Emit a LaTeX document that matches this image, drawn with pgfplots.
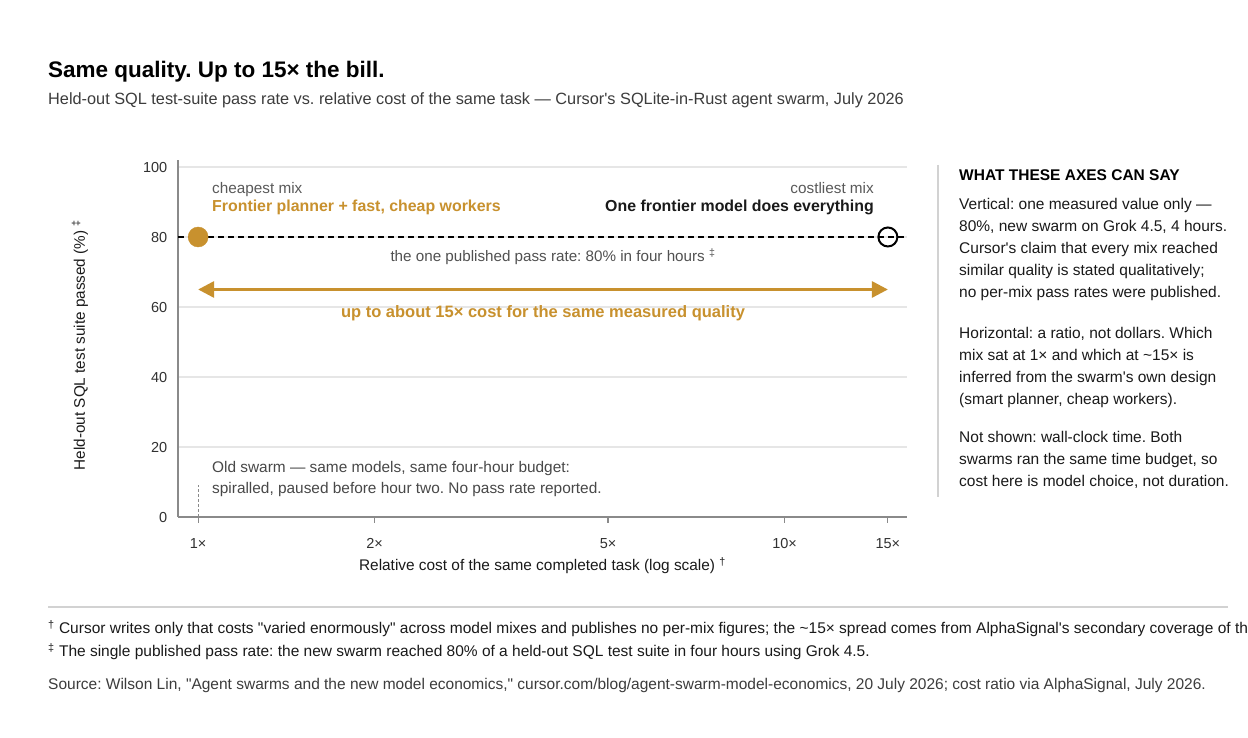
\documentclass[border=0pt]{standalone}
\usepackage{fontspec}
\setmainfont{Liberation Sans}[Ligatures=TeXOff]
\usepackage{pgfplots}
\pgfplotsset{compat=1.18}
\usetikzlibrary{arrows.meta}
\definecolor{gold}{HTML}{C8912E}
\definecolor{txtgray}{HTML}{5A5A5A}
\definecolor{axgray}{HTML}{8A8A8A}
\definecolor{gridgray}{HTML}{E6E6E6}
\definecolor{ink}{HTML}{1A1A1A}
\newcommand{\fs}[1]{\fontsize{#1}{#1}\selectfont}
\frenchspacing
\begin{document}
\frenchspacing
\begin{tikzpicture}
\useasboundingbox (0pt,0pt) rectangle (1248pt,738pt);
\fill[white] (0pt,0pt) rectangle (1248pt,738pt);
\begin{axis}[
  at={(178pt,221pt)}, anchor=south west,
  scale only axis, width=729pt, height=357pt,
  xmode=log, xmin=0.924, xmax=16.17, ymin=0, ymax=102,
  axis x line*=bottom, axis y line*=left,
  axis line style={axgray, line width=1.5pt},
  xtick={1,2,5,10,15}, xticklabels={1×,2×,5×,10×,15×},
  minor xtick={},
  ytick={0,20,40,60,80,100},
  /pgf/number format/assume math mode=true,
  ymajorgrids, grid style={gridgray, line width=1.2pt},
  xtick align=outside,
  x tick style={axgray, line width=1.2pt},
  major tick length=6pt,
  y tick style={draw=none},
  tick label style={font=\fs{14.5}, text=ink!90, inner sep=0pt},
  xticklabel style={anchor=base, yshift=-26pt},
  yticklabel style={anchor=base east, xshift=-10.5pt, yshift=-5.5pt},
  clip=false,
]
\addplot[black, line width=1.5pt, dash pattern=on 6pt off 4pt] coordinates {(0.924,80) (16.17,80)};
\addplot[gold, line width=3pt, {Triangle[length=16pt,width=16pt]}-{Triangle[length=16pt,width=16pt]}] coordinates {(1,65) (15,65)};
\addplot[axgray, line width=1pt, dash pattern=on 3pt off 2pt] coordinates {(1,0) (1,9)};
\addplot[only marks, mark=*, mark size=10pt, mark options={draw=gold, fill=gold}] coordinates {(1,80)};
\addplot[only marks, mark=o, mark size=9.5pt, mark options={draw=black, line width=2pt}] coordinates {(15,80)};
\end{axis}
% annotations
\begin{scope}[x=1pt, y=1pt, every node/.style={inner sep=0pt}]
\node[anchor=base west, font=\fs{15.3}, text=txtgray] at (212,738-194) {cheapest mix};
\node[anchor=base west, font=\bfseries\fs{15.9}, text=gold] at (212,738-212) {Frontier planner + fast, cheap workers};
\node[anchor=base east, font=\fs{15.3}, text=txtgray] at (874,738-194) {costliest mix};
\node[anchor=base east, font=\bfseries\fs{15.9}, text=ink] at (874,738-212) {One frontier model does everything};
\node[anchor=base, font=\fs{15.2}, text=txtgray!90!black] at (553,738-262) {the one published pass rate: 80\% in four hours \textsuperscript{‡}};
\node[anchor=base, font=\bfseries\fs{16.5}, text=gold] at (543,738-318) {up to about 15× cost for the same measured quality};
\node[anchor=base west, font=\fs{15.4}, text=ink!80] at (212,738-473) {Old swarm — same models, same four-hour budget:};
\node[anchor=base west, font=\fs{15.4}, text=ink!80] at (212,738-494) {spiralled, paused before hour two. No pass rate reported.};
\node[anchor=base, font=\fs{15.4}, text=ink] at (542.5,738-571) {Relative cost of the same completed task (log scale) \textsuperscript{†}};
\node[rotate=90, anchor=center, font=\fs{15.3}, text=ink] at (80,738-345) {Held-out SQL test suite passed (\%) \textsuperscript{‡}};
% title
\node[anchor=base west, font=\bfseries\fs{22.5}, text=black] at (48,738-78) {Same quality. Up to 15× the bill.};
\node[anchor=base west, font=\fs{16.3}, text=ink!85] at (48,738-105) {Held-out SQL test-suite pass rate vs. relative cost of the same task — Cursor's SQLite-in-Rust agent swarm, July 2026};
% side panel
\draw[gridgray!80!gray, line width=1.5pt] (938,738-165) -- (938,738-497);
\node[anchor=base west, font=\bfseries\fs{15.5}, text=black] at (959,738-180.5) {WHAT THESE AXES CAN SAY};
\foreach \t/\y in {{Vertical: one measured value only —}/210,
  {80\%, new swarm on Grok 4.5, 4 hours.}/232,
  {Cursor's claim that every mix reached}/254,
  {similar quality is stated qualitatively;}/276,
  {no per-mix pass rates were published.}/298,
  {Horizontal: a ratio, not dollars. Which}/338.5,
  {mix sat at 1× and which at \textasciitilde15× is}/361,
  {inferred from the swarm's own design}/383,
  {(smart planner, cheap workers).}/405,
  {Not shown: wall-clock time. Both}/442.5,
  {swarms ran the same time budget, so}/464.5,
  {cost here is model choice, not duration.}/487}
  {\node[anchor=base west, font=\fs{15.5}, text=ink] at (959,738-\y) {\t};}
% footer
\draw[gridgray!80!gray, line width=1.2pt] (48,738-607) -- (1228,738-607);
\node[anchor=base west, font=\fs{15.5}, text=ink] at (48,738-634) {\textsuperscript{†} Cursor writes only that costs "varied enormously" across model mixes and publishes no per-mix figures; the \textasciitilde15× spread comes from AlphaSignal's secondary coverage of the post.};
\node[anchor=base west, font=\fs{15.5}, text=ink] at (48,738-657) {\textsuperscript{‡} The single published pass rate: the new swarm reached 80\% of a held-out SQL test suite in four hours using Grok 4.5.};
\node[anchor=base west, font=\fs{15.5}, text=ink!85] at (48,738-690) {Source: Wilson Lin, "Agent swarms and the new model economics," cursor.com/blog/agent-swarm-model-economics, 20 July 2026; cost ratio via AlphaSignal, July 2026.};
\end{scope}
\end{tikzpicture}
\end{document}
